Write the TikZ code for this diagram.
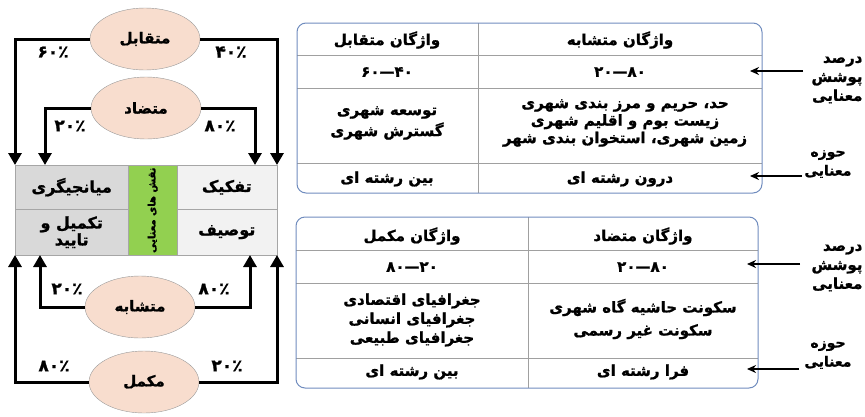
\documentclass[tikz,border=0pt]{standalone}
\usepackage{fontspec}
\TeXXeTstate=1
\newfontfamily\fa[Script=Arabic,BoldFont={DejaVu Sans Bold},BoldFeatures={FakeBold=1.1}]{DejaVu Sans}
\usetikzlibrary{arrows.meta,shapes.geometric}
\newcommand\rtl[1]{\beginR#1\endR}
\newcommand\fs[2]{\fontsize{#1}{#2}\selectfont}
\definecolor{peach}{RGB}{248,221,206}
\definecolor{cellL}{RGB}{217,217,217}
\definecolor{cellR}{RGB}{242,242,242}
\definecolor{greenc}{RGB}{146,208,80}
\definecolor{tblue}{RGB}{112,140,190}
\definecolor{tgray}{RGB}{160,160,160}
\begin{document}
\begin{tikzpicture}[x=1pt,y=-1pt,
  every node/.style={font=\fa\bfseries},
  oval/.style={ellipse,draw=gray!80,fill=peach,minimum width=110pt,minimum height=62pt,inner sep=0pt,font=\fa\bfseries\fs{15}{17}},
  cellbox/.style={draw=gray!70,minimum height=44pt,inner sep=0pt,align=center,font=\fa\bfseries\fs{16}{18}},
  arr/.style={line width=3pt,-{Triangle[width=13pt,length=12pt]}},
  pct/.style={font=\fa\bfseries\fs{17}{19}},
  ttext/.style={align=center,font=\fa\bfseries\fs{15}{20}},
  side/.style={font=\fa\bfseries\fs{15}{19}},
  sarr/.style={line width=1.6pt,-{Stealth[width=8pt,length=9pt]}}]
\useasboundingbox (0,0) rectangle (865,416);
% ---------- left diagram cells
\node[cellbox,fill=cellL,minimum width=113pt,anchor=north west] (c1) at (15,165) {\rtl{میانجیگری}};
\node[cellbox,fill=cellR,minimum width=100pt,anchor=north east] (c2) at (277,165) {\rtl{تفکیک}};
\node[cellbox,fill=cellL,minimum width=113pt,minimum height=46pt,anchor=north west,font=\fa\bfseries\fs{16}{17}] (c3) at (15,209) {\rtl{تکمیل و}\\\rtl{تایید}};
\node[cellbox,fill=cellR,minimum width=100pt,minimum height=46pt,anchor=north east] (c4) at (277,209) {\rtl{توصیف}};
\node[draw=gray!70,fill=greenc,minimum width=49pt,minimum height=90pt,inner sep=0pt,anchor=north west] (g) at (128,165) {};
\node[rotate=90,font=\fa\bfseries\fs{10}{11}] (gt) at (g.center) {\rtl{نقش های معنایی}};
% ---------- ellipses
\node[oval] (e1) at (145,39) {\rtl{متقابل}};
\node[oval] (e2) at (146,108) {\rtl{متضاد}};
\node[oval] (e3) at (140,307) {\rtl{متشابه}};
\node[oval] (e4) at (144,382) {\rtl{مکمل}};
% arrow targets
\coordinate (t1) at (15,165);
\coordinate (t2) at (277,165);
\coordinate (t3) at (45,165);
\coordinate (t4) at (255,165);
\coordinate (b1) at (15,255);
\coordinate (b2) at (277,255);
\coordinate (b3) at (40,255);
\coordinate (b4) at (250,255);
\draw[arr] (e1.west) -| (t1);
\draw[arr] (e1.east) -| (t2);
\draw[arr] (e2.west) -| (t3);
\draw[arr] (e2.east) -| (t4);
\draw[arr] (e3.west) -| (b3);
\draw[arr] (e3.east) -| (b4);
\draw[arr] (e4.west) -| (b1);
\draw[arr] (e4.east) -| (b2);
% percentages
\node[pct] (p1) at (53,52) {۶۰٪};
\node[pct] (p2) at (231,52) {۴۰٪};
\node[pct] (p3) at (70,126) {۲۰٪};
\node[pct] (p4) at (220,126) {۸۰٪};
\node[pct] (p5) at (67,289) {۲۰٪};
\node[pct] (p6) at (214,289) {۸۰٪};
\node[pct] (p7) at (54,366) {۸۰٪};
\node[pct] (p8) at (227,366) {۲۰٪};
% ---------- top table
\draw[tgray,line width=0.8pt] (297,55) -- (762,55) (297,88) -- (762,88) (297,163) -- (762,163) (478,23) -- (478,193);
\draw[tblue,line width=1pt,rounded corners=9pt] (297,23) rectangle (762,193);
\node[ttext] (a1) at (387,40) {\rtl{واژگان متقابل}};
\node[ttext] (a2) at (620,40) {\rtl{واژگان متشابه}};
\node[ttext] (a3) at (387,72) {۴۰—۶۰};
\node[ttext] (a4) at (620,72) {۸۰—۲۰};
\node[ttext,font=\fa\bfseries\fs{15}{21}] (a5) at (387,123) {\rtl{توسعه شهری}\\\rtl{گسترش شهری}};
\node[ttext,font=\fa\bfseries\fs{15}{17.5}] (a6) at (625,123) {\rtl{حد، حریم و مرز بندی شهری}\\\rtl{زیست بوم و اقلیم شهری}\\\rtl{زمین شهری، استخوان بندی شهر}};
\node[ttext] (a7) at (387,179) {\rtl{بین رشته ای}};
\node[ttext] (a8) at (620,179) {\rtl{درون رشته ای}};
% ---------- bottom table
\draw[tgray,line width=0.8pt] (296,250) -- (758,250) (296,283) -- (758,283) (296,358) -- (758,358) (528,217) -- (528,388);
\draw[tblue,line width=1pt,rounded corners=9pt] (296,217) rectangle (758,388);
\node[ttext] (b11) at (412,236) {\rtl{واژگان مکمل}};
\node[ttext] (b12) at (643,236) {\rtl{واژگان متضاد}};
\node[ttext] (b13) at (412,267) {۲۰—۸۰};
\node[ttext] (b14) at (643,267) {۸۰—۲۰};
\node[ttext,font=\fa\bfseries\fs{15}{19}] (b15) at (412,320) {\rtl{جغرافیای اقتصادی}\\\rtl{جغرافیای انسانی}\\\rtl{جغرافیای طبیعی}};
\node[ttext,font=\fa\bfseries\fs{15}{23}] (b16) at (643,319) {\rtl{سکونت حاشیه گاه شهری}\\\rtl{سکونت غیر رسمی}};
\node[ttext] (b17) at (412,372) {\rtl{بین رشته ای}};
\node[ttext] (b18) at (643,372) {\rtl{فرا رشته ای}};
% ---------- side labels
\node[side,align=right,anchor=east] (s1) at (866,80) {\rtl{درصد}\\\rtl{پوشش}\\\rtl{معنایی}};
\node[side,align=center,font=\fa\bfseries\fs{14}{19}] (s2) at (828,164) {\rtl{حوزه}\\\rtl{معنایی}};
\node[side,align=right,anchor=east] (s3) at (866,268) {\rtl{درصد}\\\rtl{پوشش}\\\rtl{معنایی}};
\node[side,align=center,font=\fa\bfseries\fs{14}{19}] (s4) at (828,355) {\rtl{حوزه}\\\rtl{معنایی}};
\coordinate (r1) at (803,71);
\coordinate (r2) at (802,176);
\coordinate (r3) at (800,264);
\coordinate (r4) at (799,369);
\coordinate (q1) at (750,71);
\coordinate (q2) at (750,176);
\coordinate (q3) at (747,264);
\coordinate (q4) at (747,369);
\draw[sarr] (r1) -- (q1);
\draw[sarr] (r2) -- (q2);
\draw[sarr] (r3) -- (q3);
\draw[sarr] (r4) -- (q4);
\end{tikzpicture}
\end{document}
